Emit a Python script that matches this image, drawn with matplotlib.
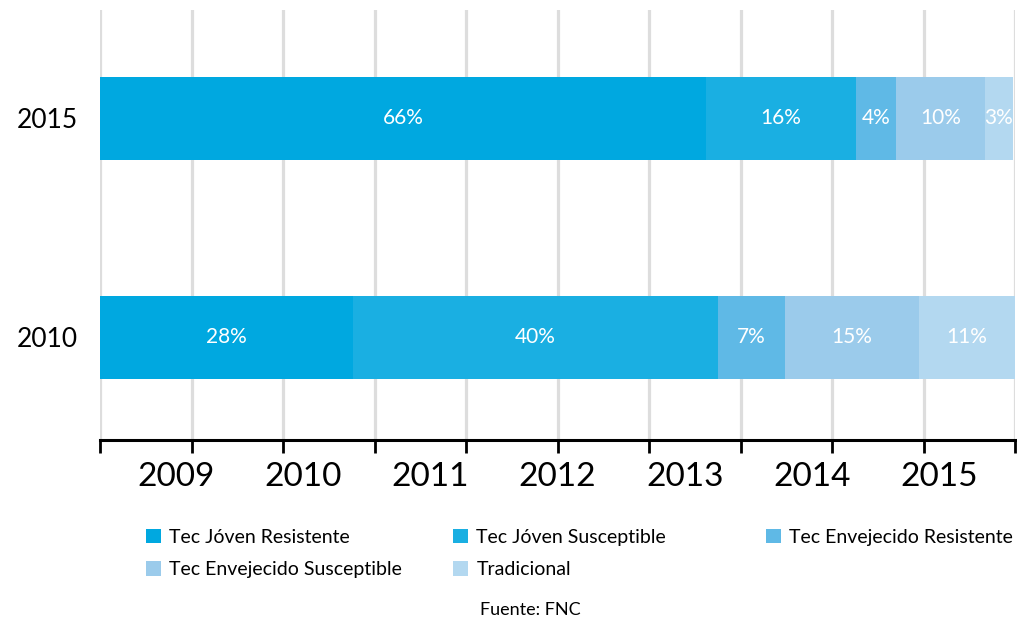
import numpy as np
import matplotlib
matplotlib.use('Agg')
import matplotlib.pyplot as plt
from matplotlib.patches import Patch

plt.rcParams['font.family'] = ['Lato', 'DejaVu Sans']

rows = ['2010', '2015']
series = ['Tec Jóven Resistente', 'Tec Jóven Susceptible',
          'Tec Envejecido Resistente', 'Tec Envejecido Susceptible',
          'Tradicional']
vals_2010 = [27.6, 39.9, 7.4, 14.6, 10.7]
vals_2015 = [66.2, 16.4, 4.4, 9.7, 3.1]
years = ['2009', '2010', '2011', '2012', '2013', '2014', '2015']
clr = ['#00a8e0', '#1aafe2', '#5fb9e6', '#9bcbeb', '#b3d8f0']

W, H = 1017, 622
fig = plt.figure(figsize=(W/100, H/100), dpi=100)
ax = fig.add_axes([100/W, 1-440/H, 915/W, 430/H])

data = np.array([vals_2010, vals_2015])
y = np.arange(len(rows))
left = np.zeros(len(rows))
for i, (name, c) in enumerate(zip(series, clr)):
    bars = ax.barh(y, data[:, i], left=left, height=0.379, color=c,
                   label=name, zorder=2)
    ax.bar_label(bars, labels=['%.0f%%' % v for v in data[:, i]],
                 label_type='center', color='white', fontsize=15)
    left += data[:, i]

ax.set_xlim(0, 100)
ax.set_ylim(-0.468, 1.495)
ax.set_xticks(np.arange(0, 101, 10))
ax.set_xticklabels([])
ax.grid(axis='x', color='#dddddd', linewidth=2.3, zorder=0)
ax.set_yticks(y)
ax.set_yticklabels(rows, fontsize=19)
ax.tick_params(axis='y', length=0, pad=16)
ax.tick_params(axis='x', length=9, width=2, color='black', direction='out')
for s in ['top', 'right', 'left']:
    ax.spines[s].set_visible(False)
ax.spines['bottom'].set_linewidth(2.2)
ax.spines['bottom'].set_zorder(3)

# year labels under the axis (not aligned with the grid in the original)
for k, yr in enumerate(years):
    xp = 8.3 + k * 13.9
    ax.text(xp, -0.468 - 37/219, yr, ha='center', va='center',
            fontsize=24, clip_on=False)

# legend, three columns laid out by hand
handles = [Patch(facecolor=c, edgecolor='none') for c in clr]
cols = [[0, 3], [1, 4], [2]]
colx = [146, 453, 766]
for xs, idx in zip(colx, cols):
    fig.legend([handles[j] for j in idx], [series[j] for j in idx],
               loc='upper left', bbox_to_anchor=(xs/W, 1-529/H),
               frameon=False, fontsize=14, handlelength=0.75,
               handleheight=0.75, handletextpad=0.45, labelspacing=0.78,
               borderaxespad=0, borderpad=0)

fig.text(530/W, 1-610/H, 'Fuente: FNC', ha='center', va='center',
         fontsize=13)

fig.savefig('out.png', dpi=100)
